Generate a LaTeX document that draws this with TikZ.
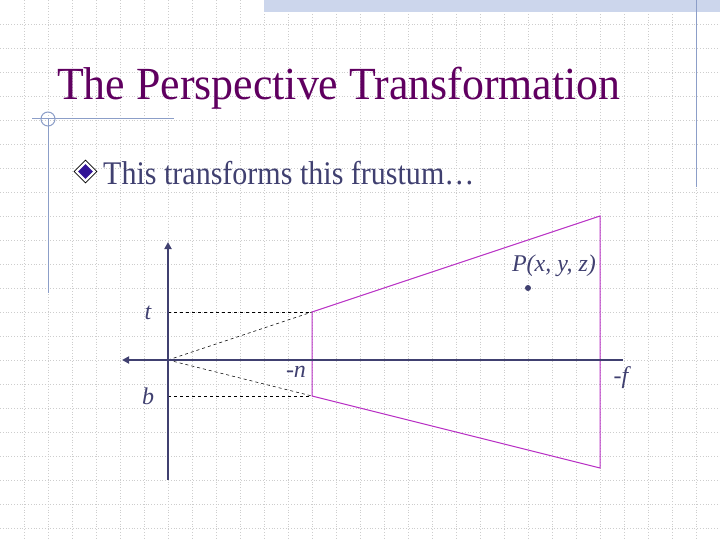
\documentclass[tikz,border=0pt]{standalone}
\usepackage{fontspec}
\setmainfont{Liberation Serif}
\usetikzlibrary{arrows.meta, positioning, shapes.geometric}
\definecolor{titlepurple}{RGB}{96,0,96}
\definecolor{textslate}{RGB}{64,64,112}
\definecolor{frustumpink}{RGB}{184,48,196}
\definecolor{decoblue}{RGB}{140,158,200}
\definecolor{gridgray}{RGB}{205,205,205}
\definecolor{barblue}{RGB}{204,214,236}
\definecolor{bulletblue}{RGB}{50,20,150}

\begin{document}
\begin{tikzpicture}[x=1pt, y=-1pt,
    gridline/.style={gridgray, dotted, line width=0.8pt},
    deco/.style={decoblue, line width=1pt},
    axis/.style={textslate, line width=2pt, -{Triangle[length=7pt, width=7pt]}},
    guide/.style={black, dashed, line width=0.6pt},
    frustum/.style={frustumpink, line width=1pt},
    lbl/.style={textslate, font=\fontsize{24}{26}\selectfont\itshape, inner sep=0pt}]
    \useasboundingbox (0,0) rectangle (720,540);
    \foreach \k in {1,...,29} \draw[gridline] (24*\k,0) -- (24*\k,540);
    \foreach \k in {1,...,22} \draw[gridline] (0,24*\k) -- (720,24*\k);
    \fill[barblue] (264,0) rectangle (720,12);
    \draw[deco] (696,0) -- (696,187);
    \draw[deco] (32,119) -- (174,119);
    \draw[deco] (48,119) -- (48,293);
    \draw[deco] (48,119) circle (7);

    \node[anchor=base west, inner sep=0pt, titlepurple, font=\fontsize{46}{50}\selectfont]
        (title) at (57,100) {\scalebox{0.953}[1]{The Perspective Transformation}};
    \node[anchor=base west, inner sep=0pt, textslate, font=\fontsize{33}{36}\selectfont]
        (bullettext) at (103,185) {\scalebox{0.91}[1]{This transforms this frustum…}};
    \node[diamond, draw=black, fill=white, line width=0.8pt, inner sep=0pt,
        minimum size=23pt] (bulletring) at (85.5,171.5) {};
    \node[diamond, fill=bulletblue, inner sep=0pt, minimum size=15pt] (bullet) at (bulletring) {};

    \coordinate (origin) at (168,360);
    \coordinate (vtop) at (168,242);
    \coordinate (vbot) at (168,480);
    \coordinate (hleft) at (122,360);
    \coordinate (hright) at (623,360);
    \coordinate (tleft) at (168,312);
    \coordinate (bleft) at (168,396);
    \coordinate (neartop) at (312,312);
    \coordinate (nearbot) at (312,396);
    \coordinate (fartop) at (600,216);
    \coordinate (farbot) at (600,468);

    \draw[guide] (tleft) -- (neartop);
    \draw[guide] (bleft) -- (nearbot);
    \draw[guide] (origin) -- (neartop);
    \draw[guide] (origin) -- (nearbot);
    \draw[frustum] (neartop) -- (fartop) -- (farbot) -- (nearbot) -- cycle;
    \draw[axis] (vbot) -- (vtop);
    \draw[axis] (hright) -- (hleft);

    \node[circle, fill=textslate, inner sep=0pt, minimum size=6pt] (pointP) at (528,288) {};
    \node[lbl] (labelP) at (554,266) {P(x, y, z)};
    \node[lbl] (labelt) at (148,313) {t};
    \node[lbl] (labelb) at (148,396) {b};
    \node[lbl] (labeln) at (296,372) {-n};
    \node[lbl] (labelf) at (621,378) {-f};
\end{tikzpicture}
\end{document}
